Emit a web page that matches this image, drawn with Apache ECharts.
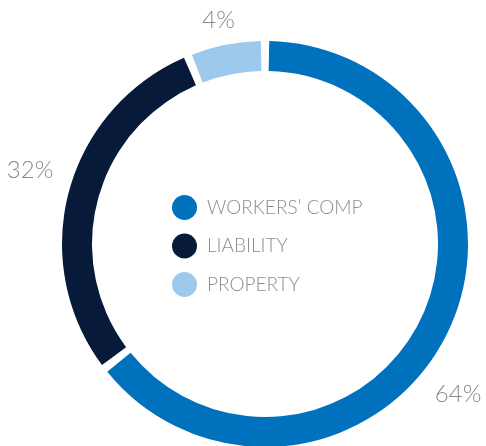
<!DOCTYPE html>
<html>
<head>
<meta charset="utf-8">
<script src="https://cdn.jsdelivr.net/npm/echarts@6/dist/echarts.min.js"></script>
<style>
    html, body { margin: 0; padding: 0; background: #fff; }
    #chartPie { width: 486px; height: 446px; }
</style>
</head>
<body>
<div id="chartPie"></div>
<script>
    // categories and values
    var categories = ['WORKERS’ COMP', 'LIABILITY', 'PROPERTY'];
    var arcShares = [64.5, 29.3, 6.2];      // how big each arc is drawn
    var printedPercents = [64, 32, 4];      // the numbers printed next to the arcs
    var colors = ['#0071bc', '#071a3a', '#9dc9ec'];

    // nudges for the outside labels (layout only)
    var labelNudge = [[-30, 55], [3, -18], [17, -11]];

    var chartPie = echarts.init(document.getElementById('chartPie'));

    var pieData = categories.map(function (name, i) {
        return {
            name: name,
            value: arcShares[i],
            itemStyle: { color: colors[i] }
        };
    });

    chartPie.setOption({
        animation: false,
        legend: {
            data: categories,
            orient: 'vertical',
            left: 167,
            top: 190,
            icon: 'circle',
            itemWidth: 25,
            itemHeight: 25,
            itemGap: 13.5,
            selectedMode: false,
            textStyle: {
                color: '#8c8c8c',
                fontSize: 19,
                fontFamily: 'Lato',
                fontWeight: 300,
                padding: [0, 0, 0, 5]
            }
        },
        series: [{
            type: 'pie',
            center: [265, 244],
            radius: [173, 203],
            startAngle: 90,
            padAngle: 2.4,
            data: pieData,
            label: {
                show: true,
                position: 'outside',
                overflow: 'none',
                formatter: function (p) { return printedPercents[p.dataIndex] + '%'; },
                color: '#8a8a8a',
                fontSize: 24,
                fontFamily: 'Lato',
                fontWeight: 300
            },
            labelLine: { show: false, length: 14, length2: 0 },
            labelLayout: function (p) {
                return { dx: labelNudge[p.dataIndex][0], dy: labelNudge[p.dataIndex][1] };
            },
            emphasis: { disabled: true }
        }]
    });
</script>
</body>
</html>
